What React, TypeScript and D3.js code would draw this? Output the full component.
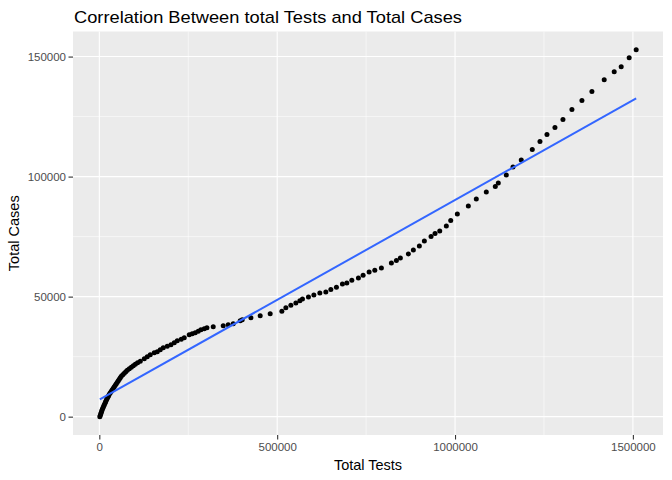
import * as d3 from "d3";
import { useEffect, useRef } from "react";

const width = 672;
const height = 480;
const margin = { top: 31.5, right: 9, bottom: 45, left: 73 };

// cumulative totals
const totalTests = [
  1400, 2809, 4213, 5618, 7022, 8427, 10393, 12079, 14045, 16011, 17697,
  19663, 21629, 23877, 26124, 28090, 30899, 33708, 36517, 39326, 42135, 44944,
  47753, 50562, 53371, 56180, 58989, 61798, 66011, 70225, 74438, 78652, 84270,
  89888, 95506, 101124, 107585, 115169, 126405, 134832, 143259, 154495, 162922,
  171349, 179776, 191012, 201405, 210675, 219102, 230338, 238765, 252810,
  261237, 269664, 278091, 285675, 294945, 302529, 320226, 348316, 362361,
  376406, 396069, 401687, 426125, 452249, 480339, 513204, 524440, 538485,
  552530, 563766, 571069, 587923, 603092, 619946, 636800, 650845, 666575,
  683429, 695789, 709834, 728373, 741576, 758430, 774441, 792981, 821071,
  835116, 846352, 868824, 882869, 899723, 913768, 932588, 943824, 957026,
  975566, 987925, 1006465, 1037364, 1059836, 1087926, 1113207, 1121634,
  1144106, 1162926, 1186241, 1217140, 1238769, 1258432, 1280904, 1303376,
  1328657, 1356747, 1384837, 1419388, 1447478, 1467141, 1489612, 1509276,
];

const totalCases = [
  0, 625, 1250, 1875, 2500, 3125, 3750, 4375, 5000, 5625, 6250, 6875, 7500,
  8125, 8750, 9375, 10000, 10625, 11250, 11875, 12500, 13125, 13750, 14375,
  15000, 15625, 16250, 16875, 17500, 18125, 18750, 19375, 20000, 20625, 21250,
  21875, 22500, 23125, 24167, 25000, 25833, 26667, 27083, 27917, 28750, 29375,
  30000, 30833, 31667, 32292, 32917, 34167, 34583, 35000, 35625, 36250, 36667,
  37083, 37500, 37917, 38333, 38750, 40000, 40417, 41250, 42083, 42917, 43877,
  45417, 46375, 47375, 48333, 49042, 49877, 50710, 51544, 51960, 52919, 53877,
  55294, 55711, 56794, 57794, 58877, 60294, 60961, 61961, 64045, 65004, 66129,
  67796, 69462, 71129, 73213, 75006, 76256, 77381, 79465, 81673, 84465, 87798,
  90715, 93632, 95841, 97383, 100716, 104050, 106967, 111259, 114593, 117509,
  120426, 123760, 127927, 131677, 135428, 140303, 143637, 145720, 149470,
  152804,
];

const xTicks = [0, 500000, 1000000, 1500000];
const yTicks = [0, 50000, 100000, 150000];

const title = "Correlation Between total Tests and Total Cases";
const xLabel = "Total Tests";
const yLabel = "Total Cases";

const font = "Liberation Sans, Arial, sans-serif";

function drawChart(node: SVGSVGElement) {
  const svg = d3.select(node);
  svg.selectAll("*").remove();

  const data = totalTests.map((t, i) => ({ x: t, y: totalCases[i] }));

  // ggplot style 5% expansion
  const xExt = d3.extent(totalTests) as [number, number];
  const yExt = d3.extent(totalCases) as [number, number];
  const xPad = (xExt[1] - xExt[0]) * 0.05;
  const yPad = (yExt[1] - yExt[0]) * 0.05;

  const x = d3
    .scaleLinear()
    .domain([xExt[0] - xPad, xExt[1] + xPad])
    .range([margin.left, width - margin.right]);
  const y = d3
    .scaleLinear()
    .domain([yExt[0] - yPad, yExt[1] + yPad])
    .range([height - margin.bottom, margin.top]);

  // panel
  svg
    .append("rect")
    .attr("x", margin.left)
    .attr("y", margin.top)
    .attr("width", width - margin.left - margin.right)
    .attr("height", height - margin.top - margin.bottom)
    .attr("fill", "#EBEBEB");

  // minor grid
  const xMinor = xTicks.slice(0, -1).map((d, i) => (d + xTicks[i + 1]) / 2);
  const yMinor = yTicks.slice(0, -1).map((d, i) => (d + yTicks[i + 1]) / 2);
  svg
    .append("g")
    .selectAll("line")
    .data(xMinor)
    .join("line")
    .attr("x1", (d) => x(d))
    .attr("x2", (d) => x(d))
    .attr("y1", margin.top)
    .attr("y2", height - margin.bottom)
    .attr("stroke", "white")
    .attr("stroke-width", 0.55);
  svg
    .append("g")
    .selectAll("line")
    .data(yMinor)
    .join("line")
    .attr("x1", margin.left)
    .attr("x2", width - margin.right)
    .attr("y1", (d) => y(d))
    .attr("y2", (d) => y(d))
    .attr("stroke", "white")
    .attr("stroke-width", 0.55);

  // major grid
  svg
    .append("g")
    .selectAll("line")
    .data(xTicks)
    .join("line")
    .attr("x1", (d) => x(d))
    .attr("x2", (d) => x(d))
    .attr("y1", margin.top)
    .attr("y2", height - margin.bottom)
    .attr("stroke", "white")
    .attr("stroke-width", 1.1);
  svg
    .append("g")
    .selectAll("line")
    .data(yTicks)
    .join("line")
    .attr("x1", margin.left)
    .attr("x2", width - margin.right)
    .attr("y1", (d) => y(d))
    .attr("y2", (d) => y(d))
    .attr("stroke", "white")
    .attr("stroke-width", 1.1);

  // points
  svg
    .append("g")
    .selectAll("circle")
    .data(data)
    .join("circle")
    .attr("cx", (d) => x(d.x))
    .attr("cy", (d) => y(d.y))
    .attr("r", 2.5)
    .attr("fill", "black");

  // linear fit (geom_smooth method = lm)
  const mx = d3.mean(totalTests) as number;
  const my = d3.mean(totalCases) as number;
  const sxy = d3.sum(data, (d) => (d.x - mx) * (d.y - my));
  const sxx = d3.sum(data, (d) => (d.x - mx) * (d.x - mx));
  const slope = sxy / sxx;
  const intercept = my - slope * mx;
  const fit = xExt.map((v) => ({ x: v, y: intercept + slope * v }));

  svg
    .append("path")
    .datum(fit)
    .attr("fill", "none")
    .attr("stroke", "#3366FF")
    .attr("stroke-width", 2)
    .attr(
      "d",
      d3
        .line<{ x: number; y: number }>()
        .x((d) => x(d.x))
        .y((d) => y(d.y))
    );

  // axes
  const xAxis = svg
    .append("g")
    .attr("transform", `translate(0,${height - margin.bottom})`)
    .call(
      d3
        .axisBottom(x)
        .tickValues(xTicks)
        .tickFormat(d3.format("d"))
        .tickSize(4.5)
        .tickPadding(3)
    );
  xAxis.select(".domain").remove();
  xAxis.selectAll("line").attr("stroke", "#333333").attr("stroke-width", 1.1);
  xAxis
    .selectAll("text")
    .attr("fill", "#4D4D4D")
    .style("font-family", font)
    .style("font-size", "11.5px");

  const yAxis = svg
    .append("g")
    .attr("transform", `translate(${margin.left},0)`)
    .call(
      d3
        .axisLeft(y)
        .tickValues(yTicks)
        .tickFormat(d3.format("d"))
        .tickSize(4.5)
        .tickPadding(2.5)
    );
  yAxis.select(".domain").remove();
  yAxis.selectAll("line").attr("stroke", "#333333").attr("stroke-width", 1.1);
  yAxis
    .selectAll("text")
    .attr("fill", "#4D4D4D")
    .style("font-family", font)
    .style("font-size", "11.5px");

  // axis titles
  svg
    .append("text")
    .attr("x", (margin.left + width - margin.right) / 2)
    .attr("y", height - 10)
    .attr("text-anchor", "middle")
    .style("font-family", font)
    .style("font-size", "14.5px")
    .attr("fill", "black")
    .text(xLabel);

  svg
    .append("text")
    .attr(
      "transform",
      `translate(19,${(margin.top + height - margin.bottom) / 2})rotate(-90)`
    )
    .attr("text-anchor", "middle")
    .style("font-family", font)
    .style("font-size", "14.5px")
    .attr("fill", "black")
    .text(yLabel);

  // title
  svg
    .append("text")
    .attr("x", 74)
    .attr("y", 22.5)
    .attr("textLength", 388)
    .attr("lengthAdjust", "spacingAndGlyphs")
    .style("font-family", font)
    .style("font-size", "17px")
    .attr("fill", "black")
    .text(title);
}

export default function App() {
  const ref = useRef<SVGSVGElement>(null);

  useEffect(() => {
    document.body.style.margin = "0";
    if (ref.current) drawChart(ref.current);
  }, []);

  return (
    <svg
      ref={ref}
      width={width}
      height={height}
      style={{ display: "block", background: "white" }}
    ></svg>
  );
}
